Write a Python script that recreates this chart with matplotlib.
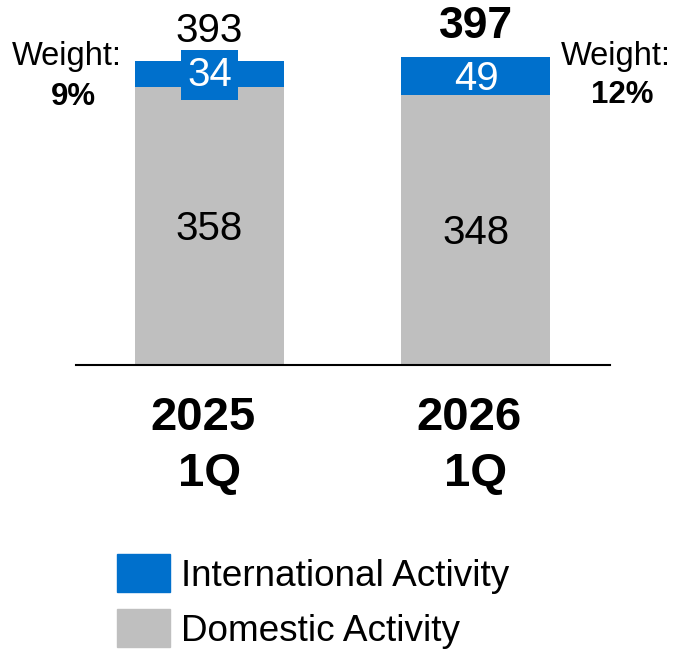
import matplotlib
matplotlib.use("Agg")
import matplotlib.pyplot as plt
from matplotlib.patches import Patch

plt.rcParams["font.family"] = ["Liberation Sans", "DejaVu Sans"]

# Data
categories = ["2025", "2026"]
periods = ["1Q", "1Q"]
domestic = [358, 348]
international = [34, 49]
totals = [393, 397]
weights = ["9%", "12%"]
series_names = ["International Activity", "Domestic Activity"]

BLUE = "#0070CC"
GRAY = "#BFBFBF"

W, H = 674, 652
fig = plt.figure(figsize=(W / 100, H / 100), dpi=100)


def fx(px):
    return px / W


def fy(py):
    return 1 - py / H


base_px = 365
px_per_unit = 0.7761
ax = fig.add_axes([fx(76), fy(base_px), (610 - 76) / W, base_px / H])
ax.set_xlim(-0.501, 1.503)
ax.set_ylim(0, base_px / px_per_unit)

x = list(range(len(categories)))
bw = 0.559
ax.bar(x, domestic, width=bw, color=GRAY, zorder=2)
ax.bar(x, international, bottom=domestic, width=bw, color=BLUE, zorder=2)

for s in ["top", "right", "left"]:
    ax.spines[s].set_visible(False)
ax.spines["bottom"].set_linewidth(1.5)
ax.spines["bottom"].set_color("black")
ax.spines["bottom"].set_zorder(3)
ax.set_xticks([])
ax.set_yticks([])

VAL_FS = 29
cap_half = VAL_FS * 100 / 72 * 0.716 / 2

for i in x:
    # domestic value, centred in its segment
    ax.annotate(str(domestic[i]), xy=(i, domestic[i] / 2), xytext=(0, -cap_half),
                textcoords="offset pixels", ha="center", va="baseline",
                fontsize=VAL_FS, color="black", zorder=4)
    # international value
    mid = domestic[i] + international[i] / 2
    bbox = None
    if i == 0:
        bbox = dict(boxstyle="square,pad=0.15", fc=BLUE, ec="none")
    ax.annotate(str(international[i]), xy=(i, mid), xytext=(0, -cap_half + 2 if i == 0 else -cap_half),
                textcoords="offset pixels", ha="center", va="baseline",
                fontsize=VAL_FS, color="white", bbox=bbox, zorder=4)
    # total above the bar
    top = domestic[i] + international[i]
    ax.annotate(str(totals[i]), xy=(i, top), xytext=(0, 33.5 - cap_half if i == 0 else 33 - cap_half),
                textcoords="offset pixels", ha="center", va="baseline",
                fontsize=VAL_FS if i == 0 else 32,
                fontweight="normal" if i == 0 else "bold", color="black",
                annotation_clip=False)
    # category labels below the axis
    ax.annotate(categories[i], xy=(i, 0), xytext=(-7, -65), textcoords="offset pixels",
                ha="center", va="baseline", fontsize=34, fontweight="bold",
                annotation_clip=False)
    ax.annotate(periods[i], xy=(i, 0), xytext=(0, -121), textcoords="offset pixels",
                ha="center", va="baseline", fontsize=34, fontweight="bold",
                annotation_clip=False)

# weight notes
fig.text(fx(67), fy(65), "Weight:", ha="center", va="baseline", fontsize=23.5)
fig.text(fx(73), fy(105), weights[0], ha="center", va="baseline", fontsize=22.5, fontweight="bold")
fig.text(fx(616), fy(65), "Weight:", ha="center", va="baseline", fontsize=23.5)
fig.text(fx(622), fy(103), weights[1], ha="center", va="baseline", fontsize=22.5, fontweight="bold")

handles = [Patch(color=BLUE), Patch(color=GRAY)]
fig.legend(handles, series_names, loc="upper left", bbox_to_anchor=(fx(117), fy(554)),
           frameon=False, fontsize=26.6, handlelength=1.43, handleheight=1.22,
           handletextpad=0.3, labelspacing=0.42, borderpad=0, borderaxespad=0)

fig.savefig("out.png", dpi=100)
